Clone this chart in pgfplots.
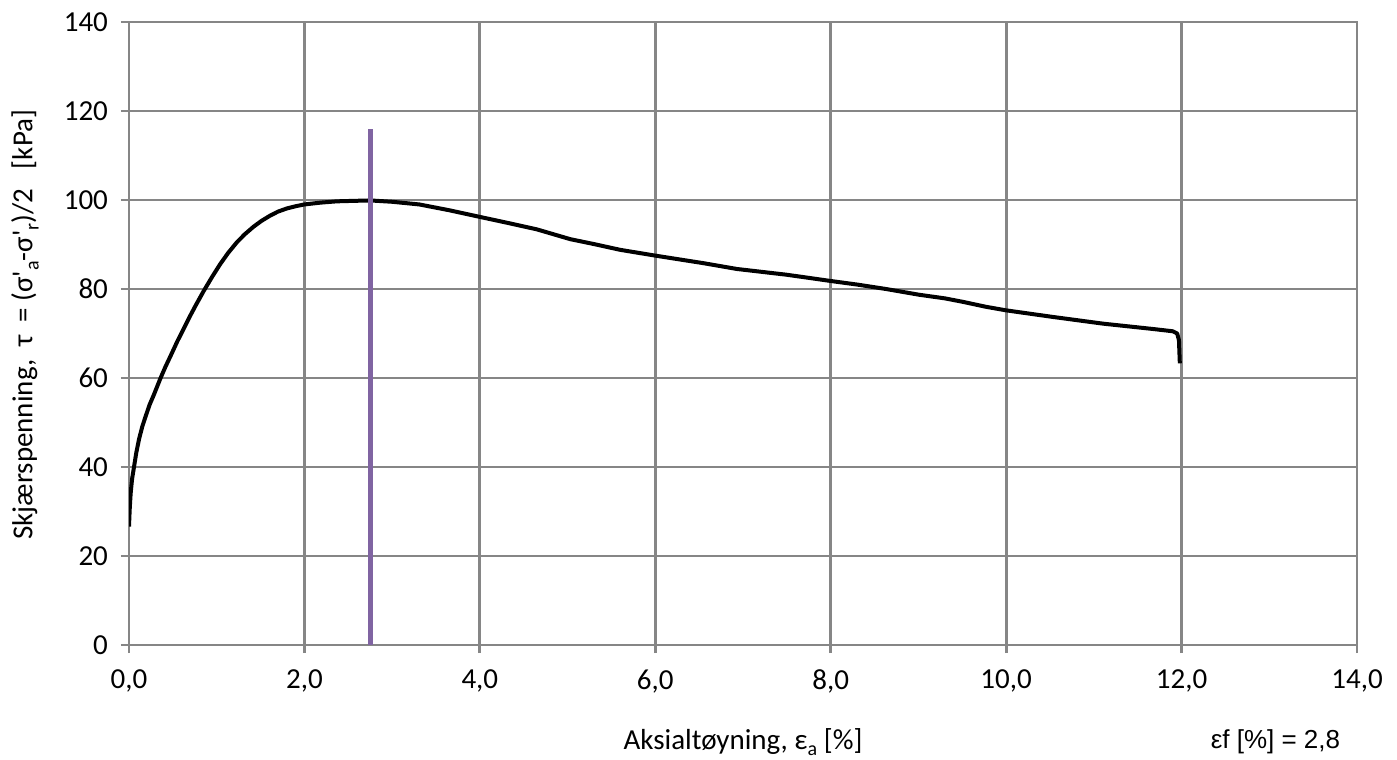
\documentclass[border=0pt]{standalone}
\usepackage{fontspec}
\setmainfont{Carlito}
\newfontfamily\calibri{Carlito}
\newfontfamily\arial{Liberation Sans}
\usepackage{pgfplots}
\pgfplotsset{compat=1.18}

\definecolor{gridgray}{RGB}{134,134,134}
\definecolor{failpurple}{RGB}{128,100,162}

\newcommand\labelfont{\calibri\fontsize{14.5}{17}\selectfont}
% lowered small subscript, as in the axis titles
\newcommand\lsub[1]{\raisebox{-0.45ex}{\fontsize{10}{11}\selectfont #1}}

\begin{document}
\begin{tikzpicture}
\path[use as bounding box] (0,0) rectangle (698.5pt,380pt);
\begin{axis}[
  at={(64.5pt,57.5pt)}, anchor=south west,
  scale only axis, width=614pt, height=311.5pt,
  xmin=0, xmax=14, ymin=0, ymax=140,
  xtick={0,2,...,14}, ytick={0,20,...,140},
  clip mode=individual,
  grid=major,
  major grid style={gridgray, line width=1.4pt},
  axis line style={gridgray, line width=1.4pt},
  tick style={gridgray, line width=1.4pt},
  tick align=outside, major tick length=4pt,
  tick pos=left,
  /pgf/number format/assume math mode=true,
  xticklabel={\pgfmathprintnumber[fixed,fixed zerofill,precision=1,use comma]{\tick}},
  yticklabel={\pgfmathprintnumber[fixed,precision=0]{\tick}},
  ticklabel style={font=\labelfont, text=black},
  xticklabel style={yshift=-5pt},
  yticklabel style={xshift=-3pt},
  xlabel={Aksialtøyning, ε\lsub{a} [\%]},
  xlabel style={font=\labelfont, at={(axis description cs:0.5,-0.1557)}, anchor=center},
  ylabel={Skjærspenning,\ \ τ \ = (σ'\lsub{a}-σ'\lsub{r})/2 \ \ [kPa]},
  ylabel style={font=\labelfont, at={(axis description cs:-0.0847,0.514)}, anchor=center},
]
% shear stress against axial strain
\addplot[black, line width=2pt, line join=round] coordinates {
(0.00,26.6) (0.008,30.5) (0.019,34.1) (0.035,37.3) (0.057,40.0) (0.083,43.2)
(0.114,46.2) (0.15,49.0) (0.19,51.4) (0.235,54.0) (0.285,56.3) (0.36,60.0)
(0.415,62.5) (0.475,65.0) (0.55,68.2) (0.627,71.2) (0.69,73.7) (0.76,76.3)
(0.85,79.5) (0.95,82.8) (1.04,85.6) (1.13,88.1) (1.23,90.5) (1.32,92.3)
(1.42,94.0) (1.51,95.3) (1.61,96.5) (1.70,97.4) (1.80,98.1) (1.90,98.6)
(2.00,99.0) (2.18,99.4) (2.37,99.7) (2.55,99.8) (2.75,99.9) (3.00,99.6)
(3.31,99.0) (3.65,97.7) (4.00,96.2) (4.33,94.8) (4.65,93.4) (5.03,91.2)
(5.30,90.1) (5.60,88.8) (6.00,87.5) (6.55,85.8) (6.93,84.5) (7.50,83.2)
(8.00,81.8) (8.30,81.0) (8.63,80.0) (9.01,78.7) (9.30,77.9) (9.51,77.1)
(9.77,76.0) (10.00,75.2) (10.54,73.7) (11.11,72.2) (11.68,71.0)
(11.90,70.5) (11.95,70.0) (11.97,68.5) (11.98,63.3)
};
% strain at failure
\addplot[failpurple, line width=2.6pt] coordinates {(2.75,0) (2.75,116)};
\node[font=\arial\fontsize{13}{15}\selectfont, anchor=east] at (axis description cs:0.992,-0.1557) {εf [\%] = 2,8};
\end{axis}
\end{tikzpicture}
\end{document}
